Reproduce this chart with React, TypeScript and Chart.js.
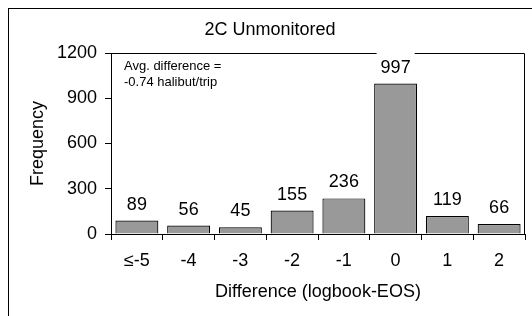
import React, { useEffect, useRef } from "react";
import { Chart, registerables } from "chart.js";

Chart.register(...registerables);

const categories = ["≤-5", "-4", "-3", "-2", "-1", "0", "1", "2"];
const frequencies = [89, 56, 45, 155, 236, 997, 119, 66];
const yTicks = [0, 300, 600, 900, 1200];
const chartTitle = "2C Unmonitored";
const xTitle = "Difference (logbook-EOS)";
const yTitle = "Frequency";
const noteLines = ["Avg. difference =", "-0.74 halibut/trip"];

const FONT = "'Liberation Sans', Arial, Helvetica, sans-serif";

export default function App() {
  const ref = useRef<HTMLCanvasElement | null>(null);

  useEffect(() => {
    const canvas = ref.current;
    if (!canvas) return;

    const framePlugin = {
      id: "frame",
      beforeDatasetsDraw(chart: any) {
        const { ctx, chartArea } = chart;
        ctx.save();
        ctx.strokeStyle = "#000";
        ctx.lineWidth = 1;
        ctx.beginPath();
        ctx.moveTo(chartArea.left, chartArea.top + 0.5);
        ctx.lineTo(chartArea.right - 0.5, chartArea.top + 0.5);
        ctx.lineTo(chartArea.right - 0.5, chartArea.bottom);
        ctx.stroke();
        ctx.restore();
      },
      afterDatasetsDraw(chart: any) {
        const { ctx, chartArea } = chart;
        const meta = chart.getDatasetMeta(0);
        ctx.save();
        ctx.font = `18px ${FONT}`;
        ctx.textAlign = "center";
        ctx.textBaseline = "middle";
        meta.data.forEach((bar: any, i: number) => {
          const txt = String(frequencies[i]);
          const cy = bar.y - 17;
          const w = ctx.measureText(txt).width + 8;
          ctx.fillStyle = "#fff";
          ctx.fillRect(bar.x - w / 2, cy - 14, w, 27);
          ctx.fillStyle = "#000";
          ctx.fillText(txt, bar.x, cy + 1);
        });
        // annotation
        ctx.font = `13px ${FONT}`;
        ctx.textAlign = "left";
        ctx.fillStyle = "#000";
        ctx.fillText(noteLines[0], chartArea.left + 13, 57);
        ctx.fillText(noteLines[1], chartArea.left + 13, 73);
        // title
        ctx.font = `18px ${FONT}`;
        ctx.textAlign = "center";
        ctx.fillText(chartTitle, 261, 21);
        ctx.restore();
      },
    };

    const chart = new Chart(canvas, {
      type: "bar",
      data: {
        labels: categories,
        datasets: [
          {
            data: frequencies,
            backgroundColor: "#999999",
            borderColor: "#000",
            borderWidth: 1.2,
            barPercentage: 0.83,
            categoryPercentage: 1,
          },
        ],
      },
      options: {
        animation: false,
        responsive: false,
        maintainAspectRatio: false,
        layout: { padding: { top: 44, right: 7, left: 0, bottom: 0 } },
        plugins: {
          legend: { display: false },
          tooltip: { enabled: false },
          title: { display: false },
        },
        scales: {
          x: {
            offset: true,
            grid: {
              offset: true,
              drawOnChartArea: false,
              drawTicks: true,
              tickLength: 6,
              color: "#000",
            },
            border: { display: true, color: "#000", width: 1 },
            ticks: {
              color: "#000",
              padding: 10,
              font: { size: 18, family: FONT },
              maxRotation: 0,
            },
            title: {
              display: true,
              text: xTitle,
              color: "#000",
              font: { size: 18, family: FONT },
              padding: { top: 0, bottom: 13 },
            },
            afterFit(scale: any) {
              scale.height = 82;
            },
          },
          y: {
            min: 0,
            max: 1200,
            afterBuildTicks(scale: any) {
              scale.ticks = yTicks.map((v) => ({ value: v }));
            },
            grid: {
              drawOnChartArea: false,
              drawTicks: true,
              tickLength: 6,
              color: "#000",
            },
            border: { display: true, color: "#000", width: 1 },
            ticks: {
              color: "#000",
              padding: 8,
              font: { size: 18, family: FONT },
              callback: (v: any) => String(v),
            },
            title: {
              display: true,
              text: yTitle,
              color: "#000",
              font: { size: 18, family: FONT },
              padding: { top: 18, bottom: 0 },
            },
            afterFit(scale: any) {
              scale.width = 102;
            },
          },
        },
      },
      plugins: [framePlugin],
    } as any);

    return () => chart.destroy();
  }, []);

  return (
    <div
      style={{
        position: "fixed",
        left: 8,
        top: 8,
        width: 540,
        height: 320,
        borderTop: "1px solid #000",
        borderLeft: "1px solid #000",
        background: "#fff",
      }}
    >
      <canvas ref={ref} width={523} height={307} style={{ display: "block", width: 523, height: 307 }} />
    </div>
  );
}
